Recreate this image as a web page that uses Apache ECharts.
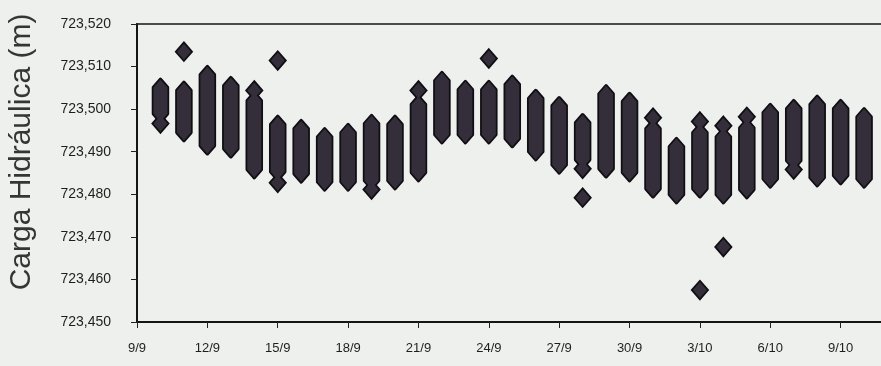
<!DOCTYPE html>
<html>
<head>
<meta charset="utf-8">
<script src="https://cdn.jsdelivr.net/npm/echarts@6/dist/echarts.min.js"></script>
<style>
  html, body { margin: 0; padding: 0; background: #eef0ee; }
  #chart { width: 881px; height: 366px; }
</style>
</head>
<body>
<div id="chart"></div>
<script>
// Days counted from 9/9 (day 0)
const days = [1, 2, 3, 4, 5, 6, 7, 8, 9, 10, 11, 12, 13, 14, 15, 16,
              17, 18, 19, 20, 21, 22, 23, 24, 25, 26, 27, 28, 29, 30, 31];

// Daily range of the hydraulic head readings (m)
const dayLow = [723.4989, 723.4945, 723.4914, 723.4907, 723.4858, 723.4853,
                723.4848, 723.4829, 723.4829, 723.4832, 723.4832, 723.4851,
                723.4940, 723.4940, 723.4940, 723.4931, 723.4900, 723.4869,
                723.4881, 723.4860, 723.4851, 723.4813, 723.4799, 723.4813,
                723.4799, 723.4811, 723.4836, 723.4879, 723.4839, 723.4844,
                723.4836];
const dayHigh = [723.5051, 723.5044, 723.5081, 723.5055, 723.5020, 723.4964,
                 723.4954, 723.4935, 723.4945, 723.4966, 723.4964, 723.5011,
                 723.5067, 723.5046, 723.5046, 723.5058, 723.5025, 723.5008,
                 723.4968, 723.5036, 723.5018, 723.4954, 723.4912, 723.4945,
                 723.4935, 723.4956, 723.4992, 723.5001, 723.5011, 723.5001,
                 723.4982];

// Single readings lying apart from the daily range
const singleDays   = [1, 2, 5, 6, 6, 10, 12, 15, 19, 19, 22, 24, 24, 25, 25, 26, 28];
const singleValues = [723.4966, 723.5135, 723.5044, 723.5114, 723.4827, 723.4811,
                      723.5044, 723.5119, 723.4860, 723.4792, 723.4980, 723.4971,
                      723.4575, 723.4961, 723.4676, 723.4982, 723.4858];

const xTickValues = [0, 3, 6, 9, 12, 15, 18, 21, 24, 27, 30, 33];
const xTickLabels = ['9/9', '12/9', '15/9', '18/9', '21/9', '24/9', '27/9',
                     '30/9', '3/10', '6/10', '9/10', '12/10'];
const yTickLabels = ['723,450', '723,460', '723,470', '723,480',
                     '723,490', '723,500', '723,510', '723,520'];

const FILL = '#342e3a';
const EDGE = '#100e12';
const FONT = '"Liberation Sans", Arial, sans-serif';

const rangeData = days.map((d, i) => [d, dayLow[i], dayHigh[i]]);
const singleData = singleDays.map((d, i) => [d, singleValues[i]]);

// Column with pointed ends; drawn twice: a wide dark stroke underneath,
// then the fill on top, so overlapping marks share one outline.
function columnRenderer(style) {
  return function (params, api) {
    const pTop = api.coord([api.value(0), api.value(2)]);
    const pBot = api.coord([api.value(0), api.value(1)]);
    const w = 7, t = 8;
    const cx = pTop[0];
    const yTop = pTop[1], yBot = pBot[1];
    return {
      type: 'polygon',
      shape: {
        points: [
          [cx, yTop - t], [cx + w, yTop], [cx + w, yBot],
          [cx, yBot + t], [cx - w, yBot], [cx - w, yTop]
        ]
      },
      style: style
    };
  };
}

const chart = echarts.init(document.getElementById('chart'), null, { renderer: 'canvas' });

chart.setOption({
  backgroundColor: '#eef0ee',
  animation: false,
  grid: {
    left: 137, top: 24, bottom: 44, right: -30,
    outerBoundsMode: 'none',
    containLabel: false,
    show: true, borderColor: '#151515', borderWidth: 1.5,
    backgroundColor: 'transparent'
  },
  graphic: [{
    type: 'text',
    x: 22, y: 152,
    rotation: Math.PI / 2,
    style: {
      text: 'Carga Hidráulica (m)',
      font: '30px ' + FONT,
      fill: '#353535',
      align: 'center',
      verticalAlign: 'middle'
    }
  }],
  xAxis: {
    type: 'value',
    min: 0, max: 33, interval: 3,
    axisLine: { show: true, lineStyle: { color: '#151515', width: 2 } },
    axisTick: { show: true, length: 6, lineStyle: { color: '#222', width: 1 } },
    splitLine: { show: false },
    axisLabel: {
      margin: 20,
      fontFamily: FONT, fontSize: 13, color: '#1e1e1e',
      formatter: (v) => {
        const k = xTickValues.indexOf(Math.round(v));
        return k >= 0 ? xTickLabels[k] : '';
      }
    }
  },
  yAxis: {
    type: 'value',
    min: 723.45, max: 723.52, interval: 0.01,
    axisLine: { show: true, lineStyle: { color: '#151515', width: 2 } },
    axisTick: { show: true, length: 6, lineStyle: { color: '#222', width: 1 } },
    splitLine: { show: false },
    axisLabel: {
      margin: 26,
      padding: [0, 0, 8, 0],
      fontFamily: FONT, fontSize: 14, color: '#1e1e1e',
      formatter: (v, i) => yTickLabels[i] || ''
    }
  },
  series: [
    {
      type: 'custom',
      data: rangeData,
      z: 2,
      silent: true,
      renderItem: columnRenderer({ fill: EDGE, stroke: EDGE, lineWidth: 3.5, lineJoin: 'round' })
    },
    {
      type: 'scatter',
      data: singleData,
      z: 2,
      silent: true,
      symbol: 'diamond',
      symbolSize: [14, 16],
      itemStyle: { color: EDGE, borderColor: EDGE, borderWidth: 3.5, opacity: 1 }
    },
    {
      type: 'custom',
      data: rangeData,
      z: 3,
      renderItem: columnRenderer({ fill: FILL, lineWidth: 0 })
    },
    {
      type: 'scatter',
      data: singleData,
      z: 3,
      symbol: 'diamond',
      symbolSize: [14, 16],
      itemStyle: { color: FILL, borderWidth: 0, opacity: 1 }
    }
  ]
});
</script>
</body>
</html>
